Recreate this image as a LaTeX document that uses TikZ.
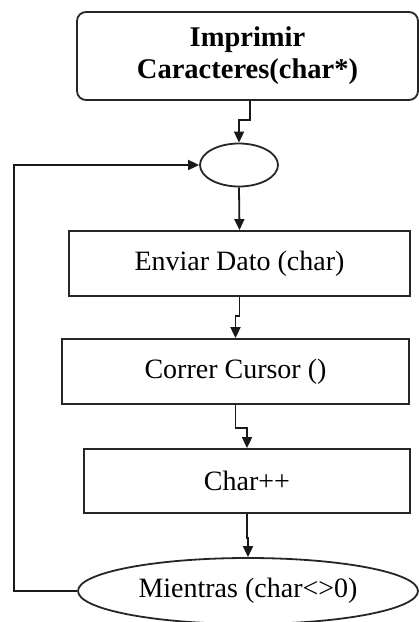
\documentclass[tikz,border=0pt]{standalone}
\usepackage{fontspec}
\setmainfont{Liberation Serif}
\usetikzlibrary{arrows.meta,shapes.geometric}

\tikzset{
  base/.style={draw=black!85, line width=1.8pt, inner sep=0pt, align=center,
    font=\fontsize{28}{32}\selectfont},
  titlebox/.style={base, rounded corners=9pt, font=\fontsize{28.5}{32}\selectfont\bfseries},
  procbox/.style={base, rectangle},
  loopnode/.style={base, ellipse},
  arr/.style={draw=black!90, line width=1.8pt,
    -{Triangle[length=11pt,width=10pt]}}
}

\begin{document}
\begin{tikzpicture}[x=1pt,y=-1pt]
  \useasboundingbox (0,0) rectangle (419,622);

  % blocks of the routine
  \node[titlebox, minimum width=341pt, minimum height=88pt] (top) at (247.5,56)
    {Imprimir\\Caracteres(char*)};
  \node[loopnode, minimum width=78pt, minimum height=43pt] (join) at (239,165) {};
  \node[procbox, minimum width=341pt, minimum height=65pt] (send) at (239.5,263.5)
    {Enviar Dato (char)};
  \node[procbox, minimum width=347pt, minimum height=65pt] (cursor) at (235.5,371.5)
    {Correr Cursor ()};
  \node[procbox, minimum width=326pt, minimum height=64pt] (inc) at (247,481)
    {Char++};
  \node[loopnode, minimum width=340pt, minimum height=66pt] (cond) at (248,591)
    {Mientras (char<>0)};

  % flow between the blocks
  \draw[arr] ([xshift=2.5pt]top.south) -- ++(0,19) -| (join.north);
  \draw[arr] (join.south) -- (send.north);
  \draw[arr] (send.south) -- ++(0,19) -| (cursor.north);
  \draw[arr] (cursor.south) -- ++(0,23) -| (inc.north);
  \draw[arr] (inc.south) -- ++(0,24) -| (cond.north);

  % loop back while the character is not zero
  \coordinate (back) at (14,591);
  \draw[arr] (cond.west) -- (back) |- (join.west);
\end{tikzpicture}
\end{document}
